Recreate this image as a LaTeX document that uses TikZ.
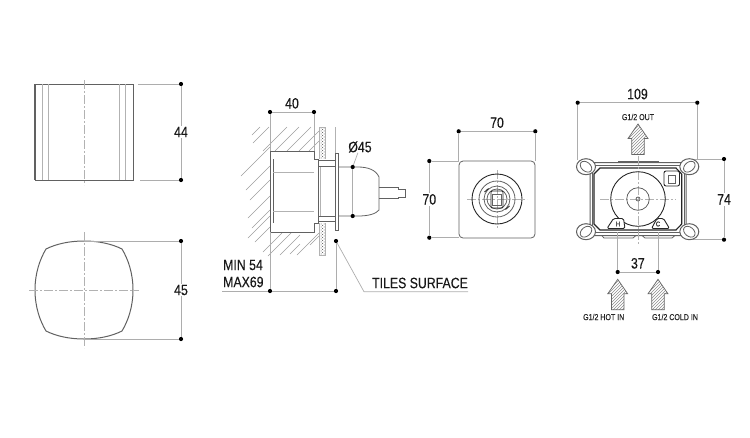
\documentclass[tikz,border=0pt]{standalone}
\usepackage{fontspec}
\setmainfont{Liberation Sans}[FakeStretch=0.82, FakeBold=0.2]
\usetikzlibrary{patterns}

\colorlet{dimgray}{black!32}
\colorlet{partgray}{black!62}
\colorlet{axisgray}{black!30}

\tikzset{
    dimdot/.style={circle, fill=black, inner sep=0pt, minimum size=4.2pt},
    dimline/.style={draw=dimgray, line width=0.7pt},
    dimtext/.style={fill=white, inner sep=1pt, text=black!90, font=\fontsize{15}{15}\selectfont},
    notetext/.style={inner sep=0pt, text=black!90, font=\fontsize{15}{17}\selectfont},
    smalltext/.style={inner sep=0pt, text=black!85, font=\fontsize{8.6}{9}\selectfont},
    partline/.style={draw=partgray, line width=0.8pt},
    thinline/.style={draw=black!30, line width=0.6pt},
    darkline/.style={draw=black!85, line width=0.9pt},
    axisline/.style={draw=axisgray, line width=0.7pt, dash pattern=on 9pt off 2pt on 2pt off 2pt},
    hatchline/.style={draw=black!38, line width=0.5pt},
    flowarrow/.pic={
        \draw[draw=black!60, line width=0.7pt, pattern=north east lines, pattern color=black!45]
            (0,0) -- (10,14.5) -- (6.3,14.5) -- (6.3,30.5) -- (-6.3,30.5) -- (-6.3,14.5) -- (-10,14.5) -- cycle;
    }
}

\begin{document}
\begin{tikzpicture}[x=1pt, y=-1pt, >=latex]
\useasboundingbox (0,0) rectangle (750,437);

\draw[partline] (35,84) rectangle (133,180);
\draw[partline, line width=1.1pt] (35,84) -- (35,180);
\foreach \xline in {42.7, 48.3, 119.3, 125}
{
    \draw[thinline] (\xline,84) -- (\xline,180);
}
\draw[axisline] (84,80) -- (84,185);

\node[dimdot] (sideA) at (181,84) {};
\node[dimdot] (sideB) at (181,180) {};
\coordinate (sideAfree) at (138,84);
\coordinate (sideBfree) at (140,180);
\draw[dimline] (sideAfree) -- (sideA);
\draw[dimline] (sideBfree) -- (sideB);
\draw[dimline] (sideA) -- node[dimtext] {44} (sideB);

\draw[partline, line width=1pt] (84,241)
    .. controls (99,241) and (112,244) .. (122,249)
    .. controls (128,259) and (133,273) .. (133,290)
    .. controls (133,307) and (128,321) .. (122,331)
    .. controls (112,336) and (99,339) .. (84,339)
    .. controls (69,339) and (56,336) .. (46,331)
    .. controls (40,321) and (35,307) .. (35,290)
    .. controls (35,273) and (40,259) .. (46,249)
    .. controls (56,244) and (69,241) .. cycle;
\draw[axisline] (84,232) -- (84,348);
\draw[axisline] (29,290) -- (139,290);

\node[dimdot] (frontA) at (181,241) {};
\node[dimdot] (frontB) at (181,339) {};
\coordinate (frontAfree) at (84,241);
\coordinate (frontBfree) at (84,339);
\draw[dimline] (frontAfree) -- (frontA);
\draw[dimline] (frontBfree) -- (frontB);
\draw[dimline] (frontA) -- node[dimtext] {45} (frontB);

\foreach \hx/\hy/\hl in {252/135/8, 253/143/16, 263/151/24, 275/151/24, 287/151/24, 299/151/20, 309/151/10,
    241/176/29, 246/190/24, 250/200/20, 248/218/22, 252/228/18, 248/238/22, 255/242/15,
    263/252/19, 268/256/24, 280/255/20, 290/254/10, 297/255/22, 310/245/9}
{
    \draw[hatchline] (\hx,\hy) -- ++(\hl,-\hl);
}
\draw[thinline, pattern=crosshatch dots, pattern color=black!70] (319,127) rectangle (325,255);
\draw[thinline] (335,127) -- (335,153);

\draw[partline, fill=white] (270,151) rectangle (314,232);
\draw[partline] (273,159) -- (273,223);
\draw[thinline] (273,172) -- (314,172);
\draw[thinline] (273,211) -- (314,211);
\fill[white] (314,159) rectangle (335,223);
\draw[partline] (314,159) -- (318,159) -- (318,160.7) -- (335,160.7);
\draw[partline] (314,223) -- (318,223) -- (318,221.7) -- (335,221.7);
\draw[partline] (318,160.7) -- (318,221.7);
\draw[thinline] (320.5,166) -- (320.5,216);
\draw[partline] (318,166) -- (335,166);
\draw[partline] (318,216) -- (335,216);
\draw[partline] (335,153) rectangle (338.3,230);
\draw[partline] (338.3,167) -- (358,167)
    .. controls (368,167) and (376,170) .. (379,177) -- (379,210)
    .. controls (376,214) and (368,216) .. (358,216) -- (338.3,216);
\draw[partline] (379,187) -- (398,187) -- (398,189) -- (405,189) -- (405,197) -- (398,197) -- (398,198.3) -- (379,198.3);

\node[dimdot] (depthA) at (270,112) {};
\node[dimdot] (depthB) at (314,112) {};
\coordinate (depthAfree) at (270,151);
\coordinate (depthBfree) at (314,151);
\draw[dimline] (depthA) -- (depthAfree);
\draw[dimline] (depthB) -- (depthBfree);
\draw[dimline] (depthA) -- node[dimtext, above=2pt, fill=none] {40} (depthB);

\node[dimdot] (diaA) at (352.7,167) {};
\node[dimdot] (diaB) at (352.7,216) {};
\draw[dimline] (diaA) -- (diaB);
\node[notetext] (diaText) at (360,147) {Ø45};
\draw[dimline] (diaText) -- (diaA);

\node[dimdot] (minA) at (270,291) {};
\node[dimdot] (minB) at (336,291) {};
\node[dimdot] (tiles) at (336,241) {};
\coordinate (minAfree) at (270,232);
\coordinate (minLeft) at (222,291);
\coordinate (tilesBend) at (364,291.7);
\coordinate (tilesEnd) at (468,291.7);
\draw[dimline] (minAfree) -- (minA);
\draw[dimline] (tiles) -- (minB);
\draw[dimline] (minLeft) -- (minA) -- (minB);
\draw[dimline] (tiles) -- (tilesBend) -- (tilesEnd);
\node[notetext, anchor=west] (minText) at (223,265) {MIN 54};
\node[notetext, anchor=west] (maxText) at (223,282) {MAX69};
\node[notetext] (tilesText) at (420,283) {TILES SURFACE};

\node[dimdot] (plateA) at (458.7,131.3) {};
\node[dimdot] (plateB) at (535.3,131.3) {};
\node[dimdot] (plateC) at (429.3,161) {};
\node[dimdot] (plateD) at (429.3,237.7) {};
\coordinate (plateAfree) at (458.7,161);
\coordinate (plateBfree) at (535.3,161);
\coordinate (plateCfree) at (459,161);
\coordinate (plateDfree) at (459,237.7);
\draw[dimline] (plateA) -- (plateAfree);
\draw[dimline] (plateB) -- (plateBfree);
\draw[dimline] (plateC) -- (plateCfree);
\draw[dimline] (plateD) -- (plateDfree);
\draw[dimline] (plateA) -- node[dimtext, above=2pt, fill=none] {70} (plateB);
\draw[dimline] (plateC) -- node[dimtext] {70} (plateD);

\draw[partline, rounded corners=4pt] (459,161) rectangle (535,238);
\draw[axisline] (497,170) -- (497,228);
\draw[axisline] (467,199) -- (527,199);
\draw[darkline] (497,199) circle (25);
\draw[partline] (497,199) circle (18);
\draw[partline] (497,199) circle (13);
\draw[partline] (497,199) circle (10);
\draw[darkline, rounded corners=1pt] (491,191) rectangle (503,208);
\draw[partline] (492.5,194.5) rectangle (501.5,205);
\draw[darkline] (484.5,192) -- (488.5,188.5);
\draw[darkline] (505.5,209.5) -- (509.5,206);

\node[dimdot] (bodyA) at (577.7,102.7) {};
\node[dimdot] (bodyB) at (697.3,102.7) {};
\node[dimdot] (bodyC) at (724,159) {};
\node[dimdot] (bodyD) at (724,239.7) {};
\coordinate (bodyAfree) at (577.7,160);
\coordinate (bodyBfree) at (697.3,160);
\coordinate (bodyCfree) at (689,159);
\coordinate (bodyDfree) at (689,239.7);
\draw[dimline] (bodyA) -- (bodyAfree);
\draw[dimline] (bodyB) -- (bodyBfree);
\draw[dimline] (bodyC) -- (bodyCfree);
\draw[dimline] (bodyD) -- (bodyDfree);
\draw[dimline] (bodyA) -- node[dimtext, above=2pt, fill=none] {109} (bodyB);
\draw[dimline] (bodyC) -- node[dimtext] {74} (bodyD);

\draw[partline, line width=1pt] (592,162.5) -- (684,162.5) -- (686,172) -- (686,226) -- (684,235.5) -- (592,235.5) -- (590,226) -- (590,172) -- cycle;
\draw[partline] (592,165.5) -- (684,165.5) -- (684,232.5) -- (592,232.5) -- cycle;
\draw[darkline, line width=1.1pt] (600,168) -- (676,168) -- (681.7,174) -- (681.7,224) -- (676,230) -- (600,230) -- (594,224) -- (594,174) -- cycle;
\draw[partline] (618,162.5) -- (618,161) -- (658,161) -- (658,162.5);
\draw[partline] (601.7,235.5) -- (604,238) -- (633,238) -- (636,235.5);
\draw[partline] (642,235.5) -- (645,238) -- (672,238) -- (675,235.5);
\foreach \lugx/\lugy/\lugang in {586/166.7/-40, 689.3/166.7/40, 586/231.7/40, 689.3/231.7/-40}
{
    \draw[partline, fill=white, line width=1pt] (\lugx,\lugy) ellipse (9.5 and 8);
    \draw[partline, rotate around={\lugang:(\lugx,\lugy)}] (\lugx,\lugy) ellipse (6.5 and 4.5);
}
\draw[axisline] (638,156) -- (638,244);
\draw[axisline] (600,199) -- (676,199);
\draw[darkline] (638,199) circle (27.3);
\draw[partline] (638,199) circle (11.3);
\draw[partline] (638,199) circle (2);
\draw[darkline, fill=white, rounded corners=1.5pt] (607,228.5) -- (613.5,218.5) -- (623.5,218.5) -- (625,228.5) -- cycle;
\draw[darkline, fill=white, rounded corners=1.5pt] (651.5,228.5) -- (657,218.5) -- (663.5,218.5) -- (669.5,228.5) -- cycle;
\node[smalltext, font=\fontsize{7}{7}\selectfont] (hotMark) at (618,224) {H};
\node[smalltext, font=\fontsize{7}{7}\selectfont] (coldMark) at (658,224) {C};
\draw[darkline, rounded corners=2pt] (664,171) -- (679.5,171) -- (679.5,186) -- (664,186) -- cycle;
\draw[partline] (668,175) rectangle (675,183);

\node[dimdot] (inletA) at (617.7,272) {};
\node[dimdot] (inletB) at (658,272) {};
\coordinate (inletAfree) at (617.7,232);
\coordinate (inletBfree) at (658,232);
\draw[dimline] (inletAfree) -- (inletA);
\draw[dimline] (inletBfree) -- (inletB);
\draw[dimline] (inletA) -- node[dimtext, above=2pt, fill=none] {37} (inletB);

\pic at (638,124) {flowarrow};
\pic at (617.7,279.3) {flowarrow};
\pic at (658,279.3) {flowarrow};
\node[smalltext] (outText) at (638,117) {G1/2 OUT};
\node[smalltext] (hotText) at (603.7,317) {G1/2 HOT IN};
\node[smalltext] (coldText) at (675,317) {G1/2 COLD IN};

\end{tikzpicture}
\end{document}
